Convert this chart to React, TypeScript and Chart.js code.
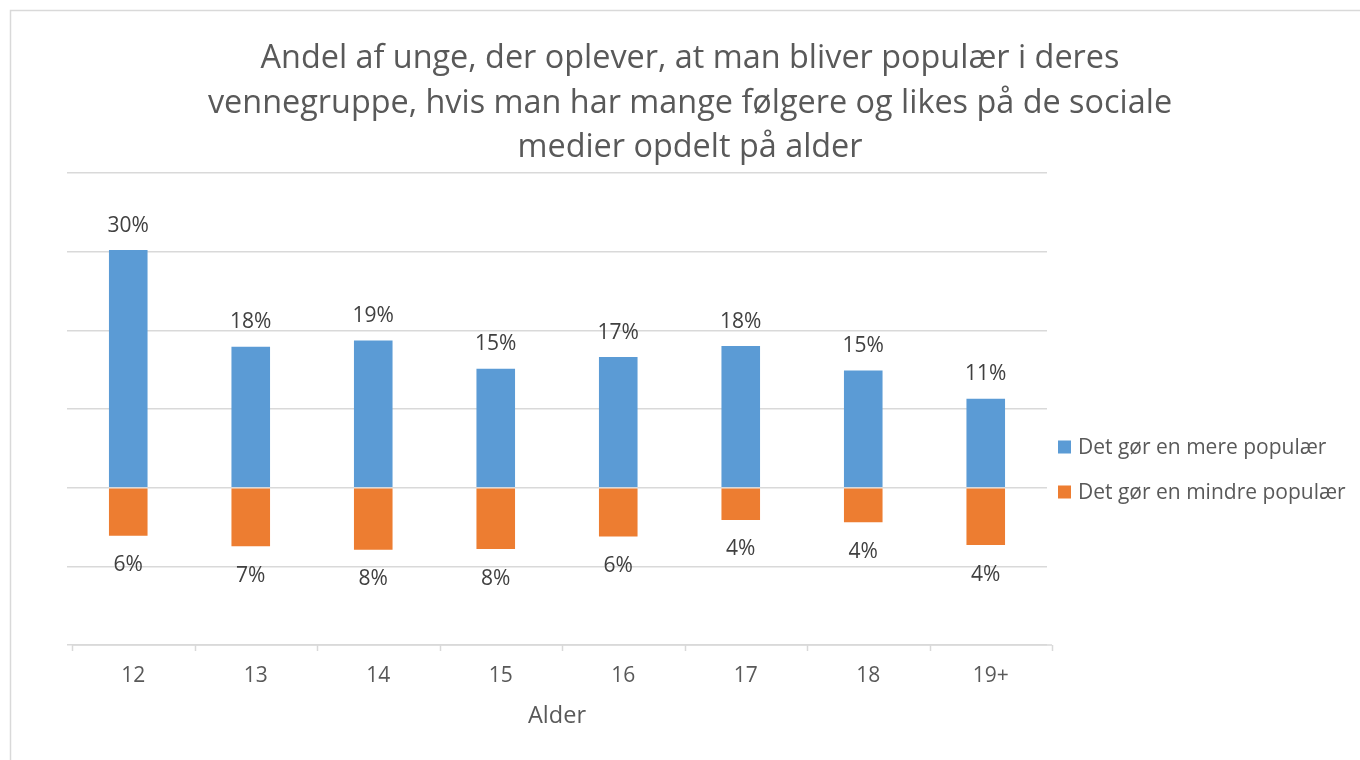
import React, { useEffect, useRef } from "react";
import { Chart, registerables } from "chart.js";

Chart.register(...registerables);

const categories = ["12", "13", "14", "15", "16", "17", "18", "19+"];
const moreValues = [30.2, 17.9, 18.7, 15.1, 16.6, 18.0, 14.9, 11.3];
const lessValues = [-6.1, -7.45, -7.9, -7.8, -6.2, -4.1, -4.4, -7.3];
const moreLabels = ["30%", "18%", "19%", "15%", "17%", "18%", "15%", "11%"];
const lessLabels = ["6%", "7%", "8%", "8%", "6%", "4%", "4%", "4%"];
const seriesNames = ["Det gør en mere populær", "Det gør en mindre populær"];
const titleLines = [
  "Andel af unge, der oplever, at man bliver populær i deres",
  "vennegruppe, hvis man har mange følgere og likes på de sociale",
  "medier opdelt på alder",
];
const axisTitle = "Alder";

const FONT = "'Open Sans', sans-serif";
const GRID = "#d9d9d9";

const framePlugin = {
  id: "frame",
  beforeDraw(chart: any) {
    const ctx = chart.ctx;
    ctx.save();
    ctx.fillStyle = "#ffffff";
    ctx.fillRect(0, 0, chart.width, chart.height);
    ctx.strokeStyle = GRID;
    ctx.lineWidth = 1.5;
    ctx.beginPath();
    ctx.moveTo(10.5, chart.height + 5);
    ctx.lineTo(10.5, 10.5);
    ctx.lineTo(chart.width + 5, 10.5);
    ctx.stroke();
    ctx.restore();
  },
};

const axisPlugin = {
  id: "offsetAxis",
  afterDraw(chart: any) {
    const ctx = chart.ctx;
    const area = chart.chartArea;
    const shift = 5;
    const n = categories.length;
    const step = (area.right - area.left) / n;
    ctx.save();
    ctx.strokeStyle = GRID;
    ctx.lineWidth = 1.5;
    ctx.beginPath();
    ctx.moveTo(area.left + shift, area.bottom);
    ctx.lineTo(area.right + shift, area.bottom);
    for (let i = 0; i <= n; i++) {
      const px = Math.round(area.left + shift + i * step) + 0.5;
      ctx.moveTo(px, area.bottom);
      ctx.lineTo(px, area.bottom + 6);
    }
    ctx.stroke();
    ctx.restore();
  },
};

const labelPlugin = {
  id: "barLabels",
  afterDatasetsDraw(chart: any) {
    const ctx = chart.ctx;
    ctx.save();
    ctx.font = `21px ${FONT}`;
    ctx.fillStyle = "#404040";
    ctx.textAlign = "center";
    ctx.textBaseline = "middle";
    const sets = [moreLabels, lessLabels];
    chart.data.datasets.forEach((ds: any, di: number) => {
      const meta = chart.getDatasetMeta(di);
      meta.data.forEach((bar: any, i: number) => {
        const v = ds.data[i];
        const y = v >= 0 ? bar.y - 24.5 : bar.y + 29.5;
        ctx.fillText(sets[di][i], bar.x, y);
      });
    });
    ctx.restore();
  },
};

const legendPlugin = {
  id: "sideLegend",
  afterDraw(chart: any) {
    const ctx = chart.ctx;
    ctx.save();
    ctx.font = `21px ${FONT}`;
    ctx.textBaseline = "middle";
    ctx.textAlign = "left";
    const ys = [447, 492];
    chart.data.datasets.forEach((ds: any, i: number) => {
      ctx.fillStyle = ds.backgroundColor;
      ctx.fillRect(1058, ys[i] - 6.5, 13, 13);
      ctx.fillStyle = "#595959";
      ctx.fillText(seriesNames[i], 1078, ys[i] + 1);
    });
    ctx.restore();
  },
};

export default function App() {
  const ref = useRef<HTMLCanvasElement | null>(null);
  useEffect(() => {
    document.body.style.margin = "0";
    if (!ref.current) return;
    const chart = new Chart(ref.current, {
      type: "bar",
      data: {
        labels: categories,
        datasets: [
          {
            label: seriesNames[0],
            data: moreValues,
            backgroundColor: "#5B9BD5",
            barPercentage: 0.315,
            categoryPercentage: 1,
          },
          {
            label: seriesNames[1],
            data: lessValues,
            backgroundColor: "#ED7D31",
            barPercentage: 0.315,
            categoryPercentage: 1,
          },
        ],
      },
      options: {
        responsive: false,
        maintainAspectRatio: false,
        animation: false,
        devicePixelRatio: 1,
        layout: { padding: { left: 20, right: 0, top: 0, bottom: 26 } },
        plugins: {
          legend: { display: false },
          tooltip: { enabled: false },
          title: {
            display: true,
            text: titleLines,
            color: "#595959",
            font: { family: FONT, size: 32.4, weight: "normal", lineHeight: 1.373 },
            padding: { top: 37, bottom: 2.5 },
          },
        },
        scales: {
          x: {
            stacked: true,
            grid: { display: false },
            border: { display: false },
            ticks: {
              color: "#595959",
              font: { family: FONT, size: 21 },
              padding: 10,
              labelOffset: 5,
            },
            title: {
              display: true,
              text: axisTitle,
              color: "#595959",
              font: { family: FONT, size: 23.5 },
              padding: { top: 0, bottom: 4 },
            },
            afterFit: (scale: any) => {
              scale.height = 89;
            },
          },
          y: {
            stacked: true,
            min: -20,
            max: 40,
            ticks: { display: false, stepSize: 10 },
            grid: { color: GRID, lineWidth: 1.5, drawTicks: false },
            border: { display: false },
            afterFit: (scale: any) => {
              scale.width = 47;
            },
          },
          yRight: {
            type: "linear",
            position: "right",
            display: true,
            ticks: { display: false },
            grid: { display: false, drawTicks: false },
            border: { display: false },
            afterFit: (scale: any) => {
              scale.width = 313;
            },
          },
        },
      },
      plugins: [framePlugin, axisPlugin, labelPlugin, legendPlugin],
    });
    return () => chart.destroy();
  }, []);
  return (
    <div style={{ width: 1360, height: 760 }}>
      <canvas ref={ref} width={1360} height={760} />
    </div>
  );
}
